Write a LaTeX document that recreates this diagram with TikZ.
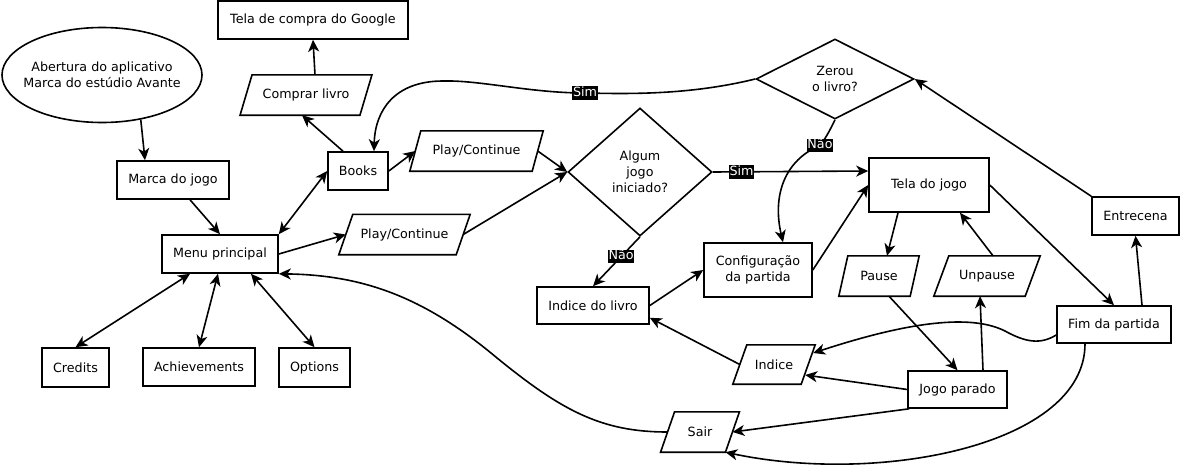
\documentclass[tikz,border=0pt]{standalone}
\usepackage{fontspec}
\setmainfont{DejaVu Sans}
\usetikzlibrary{shapes.geometric,arrows.meta}
\newcommand\paradraw[2]{\draw[line width=1.6pt] ([xshift=#2/2]#1.north west) -- ([xshift=#2/2]#1.north east) -- ([xshift=-#2/2]#1.south east) -- ([xshift=-#2/2]#1.south west) -- cycle;}
\begin{document}
\begin{tikzpicture}[x=1pt,y=-1pt,
  every node/.style={font=\fontsize{12.7}{16}\selectfont, inner sep=0pt, align=center},
  box/.style={draw, line width=1.6pt, rectangle},
  para/.style={rectangle, minimum height=40},
  tip/.tip={Stealth[length=12pt,width=11pt,inset=3.5pt]},
  arr/.style={line width=1.6pt, -tip},
  darr/.style={line width=1.6pt, tip-tip},
  lbl/.style={fill=black, text=white, inner xsep=0.6pt, inner ysep=0.5pt, text height=9.5pt, text depth=3pt}
]
\useasboundingbox (0,0) rectangle (1180,466);

% nodes
\node[draw, line width=1.6pt, ellipse, minimum width=200, minimum height=95] (abertura) at (102,75) {};
\node (aberturatxt) at (abertura.center) {Abertura do aplicativo\\Marca do estúdio Avante};
\node[box, minimum width=190, minimum height=38] (google) at (313,20) {Tela de compra do Google};
\node[box, minimum width=112, minimum height=38] (marca) at (173,180) {Marca do jogo};
\node[box, minimum width=60, minimum height=38] (books) at (358,171) {Books};
\node[box, minimum width=116, minimum height=38] (menu) at (220,254) {Menu principal};
\node[para, minimum width=119.5] (comprar) at (306,95) {Comprar livro};
\node[para, minimum width=122] (play1) at (476.5,151) {Play/Continue};
\node[para, minimum width=117] (play2) at (404.5,234.5) {Play/Continue};
\node[draw, line width=1.6pt, diamond, minimum width=144, minimum height=128, aspect=1.125] (algum) at (640,172) {Algum\\jogo\\iniciado?};
\node[draw, line width=1.6pt, diamond, minimum width=158, minimum height=80, aspect=2] (zerou) at (835,79) {Zerou\\o livro?};
\node[box, minimum width=120, minimum height=54] (tela) at (929,185) {Tela do jogo};
\node[box, minimum width=108, minimum height=54] (config) at (758,270) {Configuração\\da partida};
\node[box, minimum width=112, minimum height=37] (indlivro) at (593,305.5) {Indice do livro};
\node[para, minimum width=71] (pause) at (879,276) {Pause};
\node[para, minimum width=91] (unpause) at (987,276) {Unpause};
\node[box, minimum width=87, minimum height=38] (entre) at (1135.5,216) {Entrecena};
\node[box, minimum width=114, minimum height=37] (fim) at (1114,324.5) {Fim da partida};
\node[box, minimum width=99, minimum height=37] (parado) at (957.5,389.5) {Jogo parado};
\node[para, minimum width=68, minimum height=39] (indice) at (774,364.5) {Indice};
\node[para, minimum width=64.5] (sair) at (700,432) {Sair};
\node[box, minimum width=67, minimum height=39] (credits) at (75.5,367.5) {Credits};
\node[box, minimum width=112, minimum height=38] (achiev) at (199,367) {Achievements};
\node[box, minimum width=71, minimum height=39] (options) at (314.5,367.5) {Options};

% parallelogram outlines
\paradraw{comprar}{12}
\paradraw{play1}{11}
\paradraw{play2}{14}
\paradraw{pause}{9}
\paradraw{unpause}{15}
\paradraw{indice}{14}
\paradraw{sair}{14}

% straight connectors
\draw[arr] (abertura.-49) -- ([shift={(-28,0)}]marca.north);
\draw[arr] ([shift={(17,0)}]marca.south) -- (menu.north);
\draw[darr] (menu.north east) -- (books.west);
\draw[arr] (menu.east) -- (play2.west);
\draw[arr] ([shift={(-15,0)}]books.north) -- ([shift={(-4,0)}]comprar.south);
\draw[arr] ([shift={(9,0)}]comprar.north) -- (google.south);
\draw[arr] (books.east) -- (play1.west);
\draw[arr] (play1.east) -- (algum.west);
\draw[arr] (play2.east) -- (algum.west);
\draw[arr] (algum.east) -- node[lbl, pos=0.185] {Sim} ([shift={(0,-14)}]tela.west);
\draw[arr] (algum.south) -- node[lbl, pos=0.4] {Não} (indlivro.north);
\draw[arr] (indlivro.east) -- (config.west);
\draw[arr] (config.east) -- (tela.west);
\draw[arr] ([shift={(-31,0)}]tela.south) -- ([shift={(8,0)}]pause.north);
\draw[arr] ([shift={(6,0)}]unpause.north) -- ([shift={(31,0)}]tela.south);
\draw[arr] ([shift={(10,0)}]pause.south) -- (parado.north);
\draw[arr] ([shift={(25.5,0)}]parado.north) -- ([shift={(-7,0)}]unpause.south);
\draw[arr] (parado.west) -- ([shift={(-3,10.5)}]indice.east);
\draw[arr] ([shift={(2,0)}]parado.south west) -- (sair.east);
\draw[arr] (indice.west) -- ([shift={(0,-7)}]indlivro.south east);
\draw[arr] (tela.east) -- (fim.north);
\draw[arr] ([shift={(28,0)}]fim.north) -- (entre.south);
\draw[arr] (entre.north west) -- (zerou.east);
\draw[darr] ([shift={(-30,0)}]menu.south) -- (credits.north);
\draw[darr] ([shift={(-2,0)}]menu.south) -- (achiev.north);
\draw[darr] ([shift={(31,0)}]menu.south) -- (options.north);

% curved connectors
\draw[arr] (zerou.west) .. controls (690,95) and (630,94) .. (585,93) node[lbl] {Sim}
  .. controls (530,93) and (480,80) .. (443,81)
  .. controls (395,81) and (375,110) .. ([shift={(16,0)}]books.north);
\draw[arr] (zerou.south) .. controls (831,128) and (826,138) .. (820,145.5) node[lbl] {Não}
  .. controls (785,160) and (772,195) .. ([shift={(25,0)}]config.north);
\draw[arr] ([shift={(0,10.5)}]fim.west) .. controls (1040,345) and (1025,342) .. (1005,331)
  .. controls (975,316) and (920,318) .. ([shift={(5,-11.5)}]indice.east);
\draw[arr] ([shift={(-29,0)}]fim.south) .. controls (1085,445) and (880,485) .. ([shift={(-7,0)}]sair.south east);
\draw[arr] (sair.west) .. controls (600,432) and (560,410) .. (491,353)
  .. controls (420,295) and (360,275) .. (menu.south east);
\end{tikzpicture}
\end{document}
